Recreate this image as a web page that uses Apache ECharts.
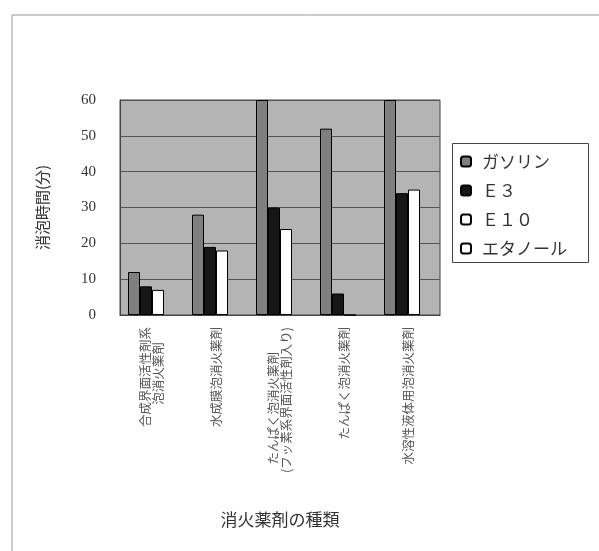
<!DOCTYPE html>
<html>
<head>
<meta charset="utf-8">
<script src="https://cdn.jsdelivr.net/npm/echarts@6/dist/echarts.min.js"></script>
<style>
html,body{margin:0;padding:0;background:#fff;}
#c{width:599px;height:551px;}
</style>
</head>
<body>
<div id="c"></div>
<script>
const categories = [
  "合成界面活性剤系\n泡消火薬剤　 ",
  "水成膜泡消火薬剤",
  "たんぱく泡消火薬剤　　\n(フッ素系界面活性剤入り)",
  "たんぱく泡消火薬剤",
  "水溶性液体用泡消火薬剤"
];
const seriesNames = ["ガソリン", "Ｅ３", "Ｅ１０", "エタノール"];
const gasoline = [12, 28, 60, 52, 60];
const e3 = [8, 19, 30, 6, 34];
const e10 = [7, 18, 24, 0, 35];
const ethanol = [null, null, null, null, null];
const yTicks = { min: 0, max: 60, interval: 10 };

const colors = ['#7f7f7f', '#161616', '#ffffff', '#ffffff'];
const dataSets = [gasoline, e3, e10, ethanol];

const chart = echarts.init(document.getElementById('c'), null, {renderer: 'canvas'});
chart.setOption({
  animation: false,
  backgroundColor: '#ffffff',
  graphic: [
    {type: 'line', shape: {x1: 12, y1: 15, x2: 12, y2: 551}, style: {stroke: '#999', lineWidth: 1}},
    {type: 'line', shape: {x1: 12, y1: 15, x2: 599, y2: 15}, style: {stroke: '#999', lineWidth: 1}},
    {type: 'rect', shape: {x: 452.5, y: 143.5, width: 136, height: 119}, style: {fill: 'none', stroke: '#444', lineWidth: 1}, z: 10}
  ],
  grid: {
    left: 120, top: 100, width: 320, height: 215,
    show: true, backgroundColor: '#b4b4b4', borderColor: '#444', borderWidth: 1
  },
  legend: {
    orient: 'vertical',
    left: 452, top: 143,
    padding: [10, 8, 10, 8],
    itemWidth: 10, itemHeight: 10,
    itemGap: 12,
    textStyle: {fontFamily: 'Noto Sans CJK JP', fontSize: 17, color: '#333', padding: [0, 0, 0, 6]},
    data: seriesNames
  },
  xAxis: {
    type: 'category',
    data: categories,
    name: '消火薬剤の種類',
    nameLocation: 'middle',
    nameGap: 196,
    nameMoveOverlap: false,
    nameTextStyle: {fontFamily: 'Noto Sans CJK JP', fontSize: 17, color: '#333'},
    axisLine: {show: true, lineStyle: {color: '#444'}},
    axisTick: {show: false},
    axisLabel: {
      interval: 0, rotate: 90, margin: 12,
      fontFamily: 'Noto Sans CJK JP', fontSize: 12.5, lineHeight: 13, color: '#555'
    }
  },
  yAxis: {
    type: 'value',
    min: yTicks.min, max: yTicks.max, interval: yTicks.interval,
    name: '消泡時間(分)',
    nameLocation: 'middle',
    nameGap: 70,
    nameMoveOverlap: false,
    nameTextStyle: {fontFamily: 'Noto Sans CJK JP', fontSize: 15, color: '#333'},
    axisLine: {show: true, lineStyle: {color: '#444'}},
    axisTick: {show: false},
    splitLine: {show: true, lineStyle: {color: '#555', width: 1}},
    axisLabel: {margin: 24, fontFamily: 'Liberation Serif', fontSize: 15, color: '#333'}
  },
  series: seriesNames.map((n, i) => ({
    name: n,
    type: 'bar',
    data: dataSets[i],
    barGap: '0%',
    barCategoryGap: '25%',
    itemStyle: {color: colors[i], borderColor: '#000', borderWidth: 1}
  }))
});
</script>
</body>
</html>
